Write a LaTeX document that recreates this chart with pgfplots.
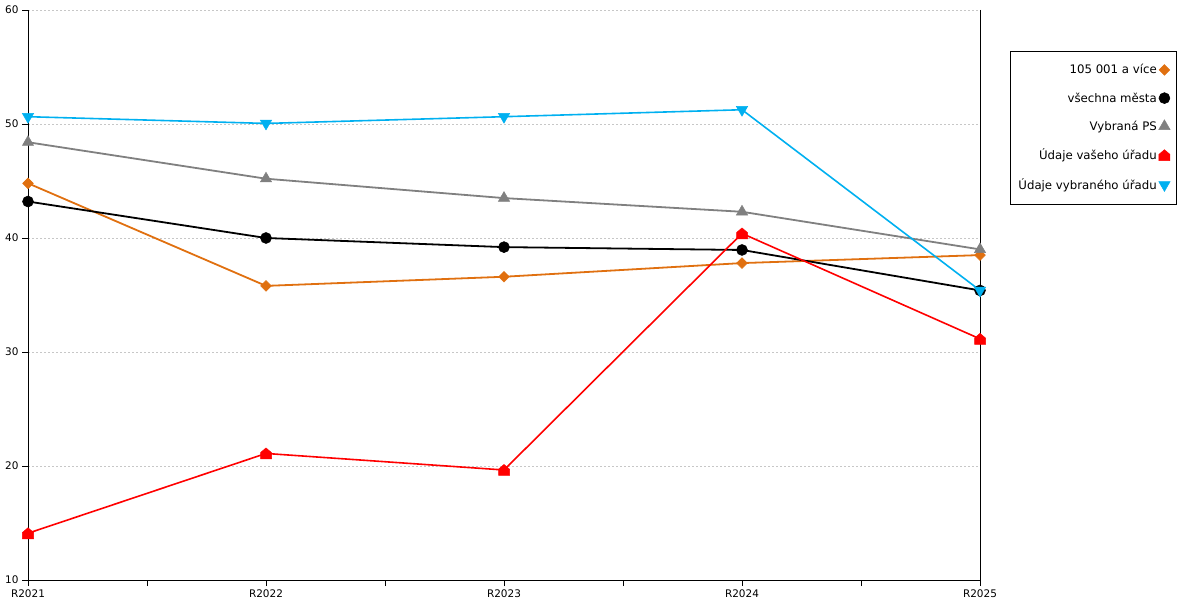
\documentclass[border=0pt]{standalone}
\usepackage{fontspec}
\setmainfont{DejaVu Sans}
\usepackage{pgfplots}
\pgfplotsset{compat=1.18}
\definecolor{corange}{HTML}{E07010}
\definecolor{cblack}{HTML}{000000}
\definecolor{cgray}{HTML}{808080}
\definecolor{cred}{HTML}{FF0000}
\definecolor{cblue}{HTML}{00B0F0}
\pgfdeclareplotmark{house}{%
  \pgfpathmoveto{\pgfqpoint{-\pgfplotmarksize}{-\pgfplotmarksize}}%
  \pgfpathlineto{\pgfqpoint{\pgfplotmarksize}{-\pgfplotmarksize}}%
  \pgfpathlineto{\pgfqpoint{\pgfplotmarksize}{0.15\pgfplotmarksize}}%
  \pgfpathlineto{\pgfqpoint{0pt}{\pgfplotmarksize}}%
  \pgfpathlineto{\pgfqpoint{-\pgfplotmarksize}{0.15\pgfplotmarksize}}%
  \pgfpathclose
  \pgfusepathqfillstroke}
\begin{document}
\begin{tikzpicture}
\path[use as bounding box] (-28bp,-20bp) rectangle (1172bp,580bp);
\begin{axis}[
  at={(0,0)}, anchor=south west,
  scale only axis, width=952bp, height=570bp,
  xmin=0, xmax=4, ymin=10, ymax=60,
  axis x line*=bottom, axis y line*=left,
  axis line style={black, line width=0.9bp},
  xtick={0,1,2,3,4},
  xticklabels={R2021,R2022,R2023,R2024,R2025},
  minor xtick={0.5,1.5,2.5,3.5},
  ytick={10,20,30,40,50,60},
  tick align=outside,
  major tick length=6bp, minor tick length=6bp,
  tick style={black, line width=0.9bp},
  ymajorgrids,
  grid style={black!22, dash pattern=on 2bp off 2bp, line width=0.6bp},
  tick label style={font=\fontsize{10.5}{12}\selectfont},
  /pgf/number format/assume math mode=true,
  clip=false,
  legend cell align=right,
  legend plot pos=right,
  legend image code/.code={\draw[#1] plot[only marks] coordinates {(0.55em,0pt)};},
  legend style={at={(1.0315,0.928)}, anchor=north west, draw=black,
    line width=0.9bp, font=\fontsize{11.8}{14}\selectfont,
    row sep=13.3bp, inner xsep=6bp, inner ysep=11bp},
]
\draw[black, line width=0.9bp] (axis cs:4,60) -- (axis cs:4,10);
\addplot[corange, line width=1.8bp, mark=square*, mark size=3.8bp,
  mark options={fill=corange, draw=corange, line width=0.5bp, rotate=45}]
  coordinates {(0,44.8)(1,35.8)(2,36.6)(3,37.8)(4,38.5)};
\addlegendentry{105 001 a více}
\addplot[cblack, line width=1.8bp, mark=*, mark size=5.5bp,
  mark options={fill=cblack, draw=cblack, line width=0.5bp}]
  coordinates {(0,43.2)(1,40.0)(2,39.2)(3,38.95)(4,35.4)};
\addlegendentry{všechna města}
\addplot[cgray, line width=1.8bp, mark=triangle*, mark size=6.5bp,
  mark options={fill=cgray, draw=cgray, line width=0.5bp}]
  coordinates {(0,48.4)(1,45.2)(2,43.5)(3,42.3)(4,39.0)};
\addlegendentry{Vybraná PS}
\addplot[cred, line width=1.6bp, mark=house, mark size=5.5bp,
  mark options={fill=cred, draw=cred, line width=0.5bp}]
  coordinates {(0,14.1)(1,21.1)(2,19.65)(3,40.4)(4,31.15)};
\addlegendentry{Údaje vašeho úřadu}
\addplot[cblue, line width=1.6bp, mark=triangle*, mark size=6.5bp,
  mark options={fill=cblue, draw=cblue, line width=0.5bp, rotate=180}]
  coordinates {(0,50.64)(1,50.05)(2,50.64)(3,51.25)(4,35.4)};
\addlegendentry{Údaje vybraného úřadu}
\end{axis}
\end{tikzpicture}
\end{document}
